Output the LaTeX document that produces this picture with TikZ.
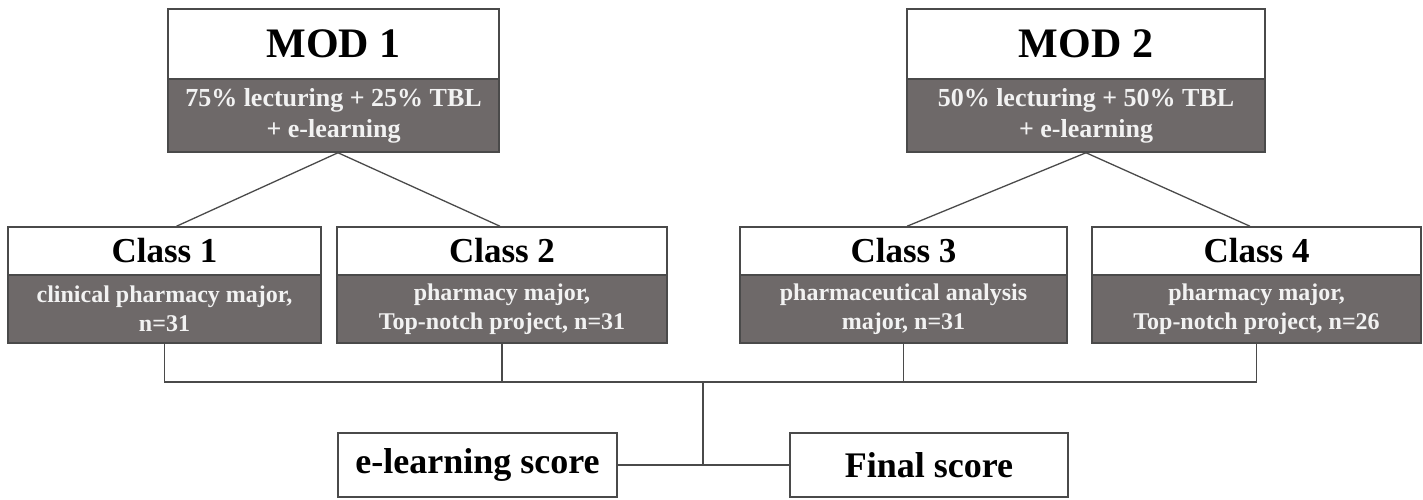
\documentclass[tikz,border=0pt]{standalone}
\usepackage{fontspec}
\setmainfont{Liberation Serif}
\definecolor{boxgray}{HTML}{6E6969}
\definecolor{edge}{HTML}{4A4A4A}
\definecolor{paletext}{HTML}{F2F2F2}
\tikzset{
  whitebox/.style={draw=edge, line width=1.5pt, fill=white, rectangle, inner sep=0pt, align=center, font=\bfseries},
  graybox/.style={draw=edge, line width=1.5pt, fill=boxgray, rectangle, inner sep=0pt, align=center, text=paletext, font=\bfseries},
  conn/.style={draw=edge, line width=1.3pt},
  modtitle/.style={font=\bfseries\fontsize{42}{46}\selectfont},
  classtitle/.style={font=\bfseries\fontsize{35}{38}\selectfont},
  modtext/.style={font=\bfseries\fontsize{26}{31}\selectfont},
  classtext/.style={font=\bfseries\fontsize{24}{29}\selectfont},
  scoretext/.style={font=\bfseries\fontsize{36}{38}\selectfont}
}
\begin{document}
\begin{tikzpicture}[x=1pt,y=-1pt]
\useasboundingbox (0,0) rectangle (1423,500);
% MOD boxes
\node[whitebox, modtitle, minimum width=331pt, minimum height=70pt] (m1t) at (333.5,44) {MOD 1};
\node[graybox, modtext, minimum width=331pt, minimum height=73pt] (m1b) at (333.5,115.5) {75\% lecturing + 25\% TBL\\+ e-learning};
\node[whitebox, modtitle, minimum width=358pt, minimum height=70pt] (m2t) at (1086,44) {MOD 2};
\node[graybox, modtext, minimum width=358pt, minimum height=73pt] (m2b) at (1086,115.5) {50\% lecturing + 50\% TBL\\+ e-learning};
% Class boxes
\node[whitebox, classtitle, minimum width=313pt, minimum height=48pt] (c1t) at (164.5,251) {Class 1};
\node[graybox, classtext, minimum width=313pt, minimum height=68pt] (c1b) at (164.5,309) {clinical pharmacy major,\\n=31};
\node[whitebox, classtitle, minimum width=330pt, minimum height=48pt] (c2t) at (502,251) {Class 2};
\node[graybox, classtext, minimum width=330pt, minimum height=68pt] (c2b) at (502,309) {pharmacy major,\\Top-notch project, n=31};
\node[whitebox, classtitle, minimum width=327pt, minimum height=48pt] (c3t) at (903.5,251) {Class 3};
\node[graybox, classtext, minimum width=327pt, minimum height=68pt] (c3b) at (903.5,309) {pharmaceutical analysis\\major, n=31};
\node[whitebox, classtitle, minimum width=329pt, minimum height=48pt] (c4t) at (1256.5,251) {Class 4};
\node[graybox, classtext, minimum width=329pt, minimum height=68pt] (c4b) at (1256.5,309) {pharmacy major,\\Top-notch project, n=26};
% Score boxes
\node[whitebox, scoretext, minimum width=279pt, minimum height=64pt] (el) at (477.5,465) {e-learning score};
\node[whitebox, scoretext, minimum width=278pt, minimum height=64pt] (fs) at (929,465) {Final score};
% Tree connectors
\draw[conn] ([xshift=4.5pt]m1b.south) -- ([xshift=12pt]c1t.north);
\draw[conn] ([xshift=4.5pt]m1b.south) -- ([xshift=-2pt]c2t.north);
\draw[conn] (m2b.south) -- ([xshift=3.5pt]c3t.north);
\draw[conn] (m2b.south) -- ([xshift=-6.5pt]c4t.north);
% Bus
\coordinate (bus) at (703,382);
\draw[conn] (c1b.south) -- (c1b.south |- bus) -- (c4b.south |- bus) -- (c4b.south);
\draw[conn] (c2b.south) -- (c2b.south |- bus);
\draw[conn] (c3b.south) -- (c3b.south |- bus);
\draw[conn] (bus) -- (bus |- el.east);
\draw[conn] (el.east) -- (fs.west);
\end{tikzpicture}
\end{document}
